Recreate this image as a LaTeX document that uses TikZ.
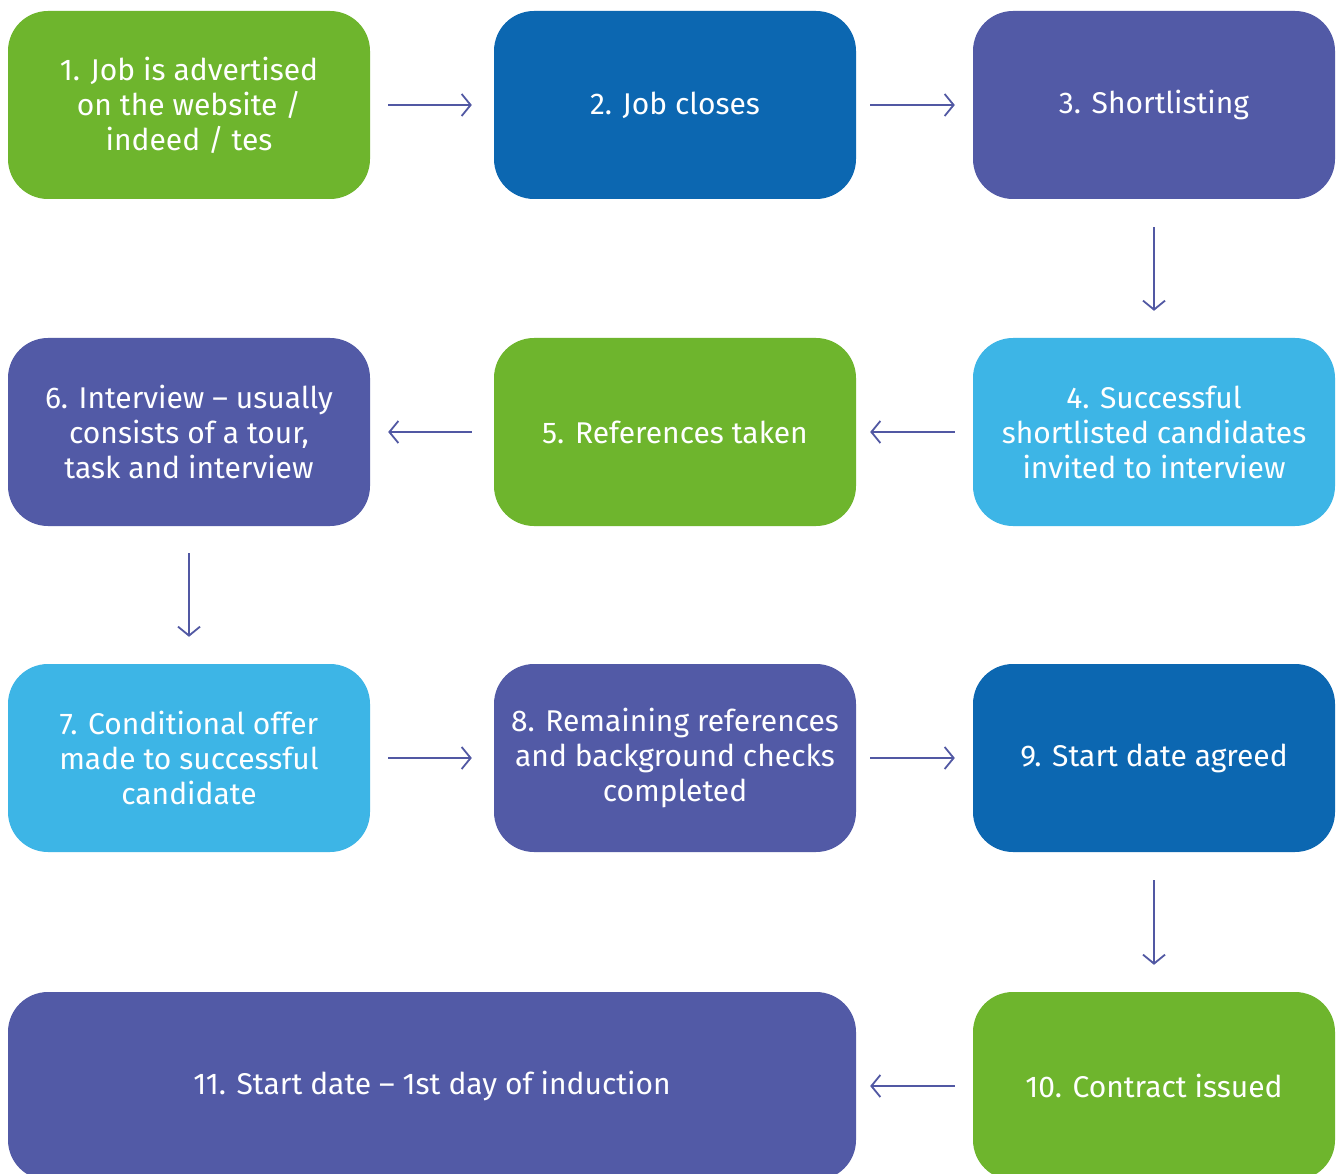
\documentclass[tikz,border=0pt]{standalone}
\usepackage{fontspec}
\setmainfont{Fira Sans}
\usetikzlibrary{arrows.meta}
\definecolor{cgreen}{HTML}{6EB52D}
\definecolor{cdblue}{HTML}{0C67B1}
\definecolor{cpurple}{HTML}{525AA6}
\definecolor{clblue}{HTML}{3DB5E6}
\definecolor{carrow}{HTML}{5158A3}
\tikzset{
  box/.style={rounded corners=40pt, minimum width=362pt, minimum height=188pt,
    text=white, align=center, inner sep=0pt,
    font=\fontsize{30pt}{35pt}\selectfont},
  gbox/.style={box, fill=cgreen},
  dbox/.style={box, fill=cdblue},
  pbox/.style={box, fill=cpurple},
  lbox/.style={box, fill=clblue},
  flow/.style={draw=carrow, line width=1.8pt,
    -{Straight Barb[length=9pt,width=22pt,line width=1.8pt]}},
}
\begin{document}
\begin{tikzpicture}[x=1pt,y=-1pt]
\clip (0,0) rectangle (1339,1174);
\fill[white] (0,0) rectangle (1339,1174);
% row 1
\node[gbox] (n1) at (189,105) {1. Job is advertised\\on the website /\\indeed / tes};
\node[dbox] (n2) at (675,105) {2. Job closes};
\node[pbox] (n3) at (1154,105) {3. Shortlisting};
% row 2
\node[pbox] (n6) at (189,432) {6. Interview -- usually\\consists of a tour,\\task and interview};
\node[gbox] (n5) at (675,432) {5. References taken};
\node[lbox] (n4) at (1154,432) {4. Successful\\shortlisted candidates\\invited to interview};
% row 3
\node[lbox] (n7) at (189,758) {7. Conditional offer\\made to successful\\candidate};
\node[pbox] (n8) at (675,758) {8. Remaining references\\and background checks\\completed};
\node[dbox] (n9) at (1154,758) {9. Start date agreed};
% row 4
\node[pbox, minimum width=848pt] (n11) at (432,1086) {11. Start date -- 1st day of induction};
\node[gbox] (n10) at (1154,1086) {10. Contract issued};
% arrows
\draw[flow] ([xshift=18pt]n1.east) -- ([xshift=-22pt]n2.west);
\draw[flow] ([xshift=14pt]n2.east) -- ([xshift=-18pt]n3.west);
\draw[flow] ([yshift=-28pt]n3.south) -- ([yshift=27pt]n4.north);
\draw[flow] ([xshift=-18pt]n4.west) -- ([xshift=14pt]n5.east);
\draw[flow] ([xshift=-22pt]n5.west) -- ([xshift=18pt]n6.east);
\draw[flow] ([yshift=-27pt]n6.south) -- ([yshift=27pt]n7.north);
\draw[flow] ([xshift=18pt]n7.east) -- ([xshift=-22pt]n8.west);
\draw[flow] ([xshift=14pt]n8.east) -- ([xshift=-18pt]n9.west);
\draw[flow] ([yshift=-28pt]n9.south) -- ([yshift=27pt]n10.north);
\draw[flow] ([xshift=-18pt]n10.west) -- ([xshift=14pt]n11.east);
\end{tikzpicture}
\end{document}
